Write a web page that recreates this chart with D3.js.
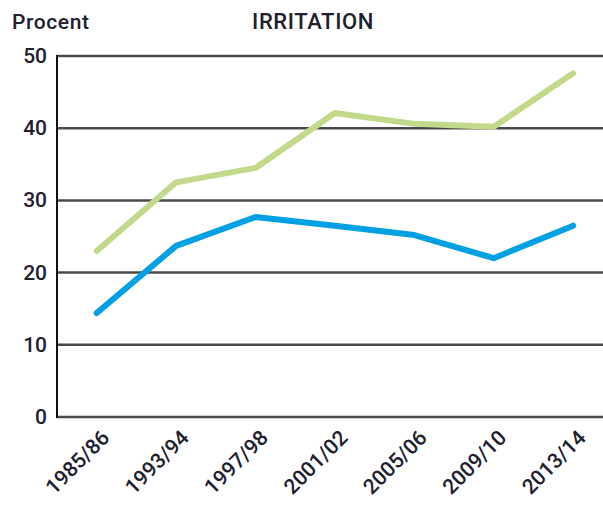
<!DOCTYPE html>
<html><head><meta charset="utf-8">
<script src="https://cdn.jsdelivr.net/npm/d3@7/dist/d3.min.js"></script>
<style>body{margin:0;background:#fff}svg{display:block}</style>
</head><body><svg id="c" width="603" height="505"></svg>
<script>
const categories = ["1985/86","1993/94","1997/98","2001/02","2005/06","2009/10","2013/14"];
const greenValues = [23.0, 32.5, 34.5, 42.1, 40.6, 40.2, 47.6];
const blueValues = [14.4, 23.7, 27.7, 26.5, 25.2, 22.0, 26.5];
const yTicks = [0, 10, 20, 30, 40, 50];

(function(){
const svg = d3.select("#c");
const font = "Roboto, 'Open Sans', sans-serif";
const txt = "#20202e";
const mLeft = 57, mRight = 603, mTop = 56, mBottom = 417;
const x = d3.scalePoint().domain(categories).range([mLeft, mLeft + 7*79.4]).padding(0.5);
const y = d3.scaleLinear().domain([0, 50]).range([mBottom, mTop]);

svg.append("g").selectAll("line").data(yTicks).join("line")
  .attr("x1", mLeft).attr("x2", mRight)
  .attr("y1", d => y(d)).attr("y2", d => y(d))
  .attr("stroke", "#4a4a4a").attr("stroke-width", 2.5);
svg.append("line").attr("x1", mLeft).attr("x2", mLeft).attr("y1", mTop - 1).attr("y2", mBottom + 1)
  .attr("stroke", "#111").attr("stroke-width", 2);

svg.append("g").selectAll("text").data(yTicks).join("text")
  .attr("x", 47).attr("y", d => y(d) + 7)
  .attr("text-anchor", "end").attr("font-family", font).attr("font-size", 21).attr("font-weight", 500)
  .attr("fill", txt).text(d => d);

svg.append("g").selectAll("text").data(categories).join("text")
  .attr("transform", d => `translate(${x(d) + 14},${mBottom + 22}) rotate(-45)`)
  .attr("text-anchor", "end").attr("font-family", font).attr("font-size", 21).attr("font-weight", 500)
  .attr("fill", txt).text(d => d);

const line = d3.line().x((d, i) => x(categories[i])).y(d => y(d));
svg.append("path").datum(greenValues).attr("d", line).attr("fill", "none")
  .attr("stroke", "#c2d98b").attr("stroke-width", 6).attr("stroke-linejoin", "round").attr("stroke-linecap", "round");
svg.append("path").datum(blueValues).attr("d", line).attr("fill", "none")
  .attr("stroke", "#00a0e2").attr("stroke-width", 6).attr("stroke-linejoin", "round").attr("stroke-linecap", "round");

svg.append("text").attr("x", 12).attr("y", 29).attr("font-family", font).attr("font-size", 21).attr("font-weight", 500)
  .attr("letter-spacing", 0.6).attr("fill", txt).text("Procent");
svg.append("text").attr("x", 313).attr("y", 29).attr("text-anchor", "middle").attr("font-family", font).attr("font-size", 22).attr("font-weight", 500)
  .attr("letter-spacing", 0.6).attr("fill", txt).text("IRRITATION");
})();
</script></body></html>
